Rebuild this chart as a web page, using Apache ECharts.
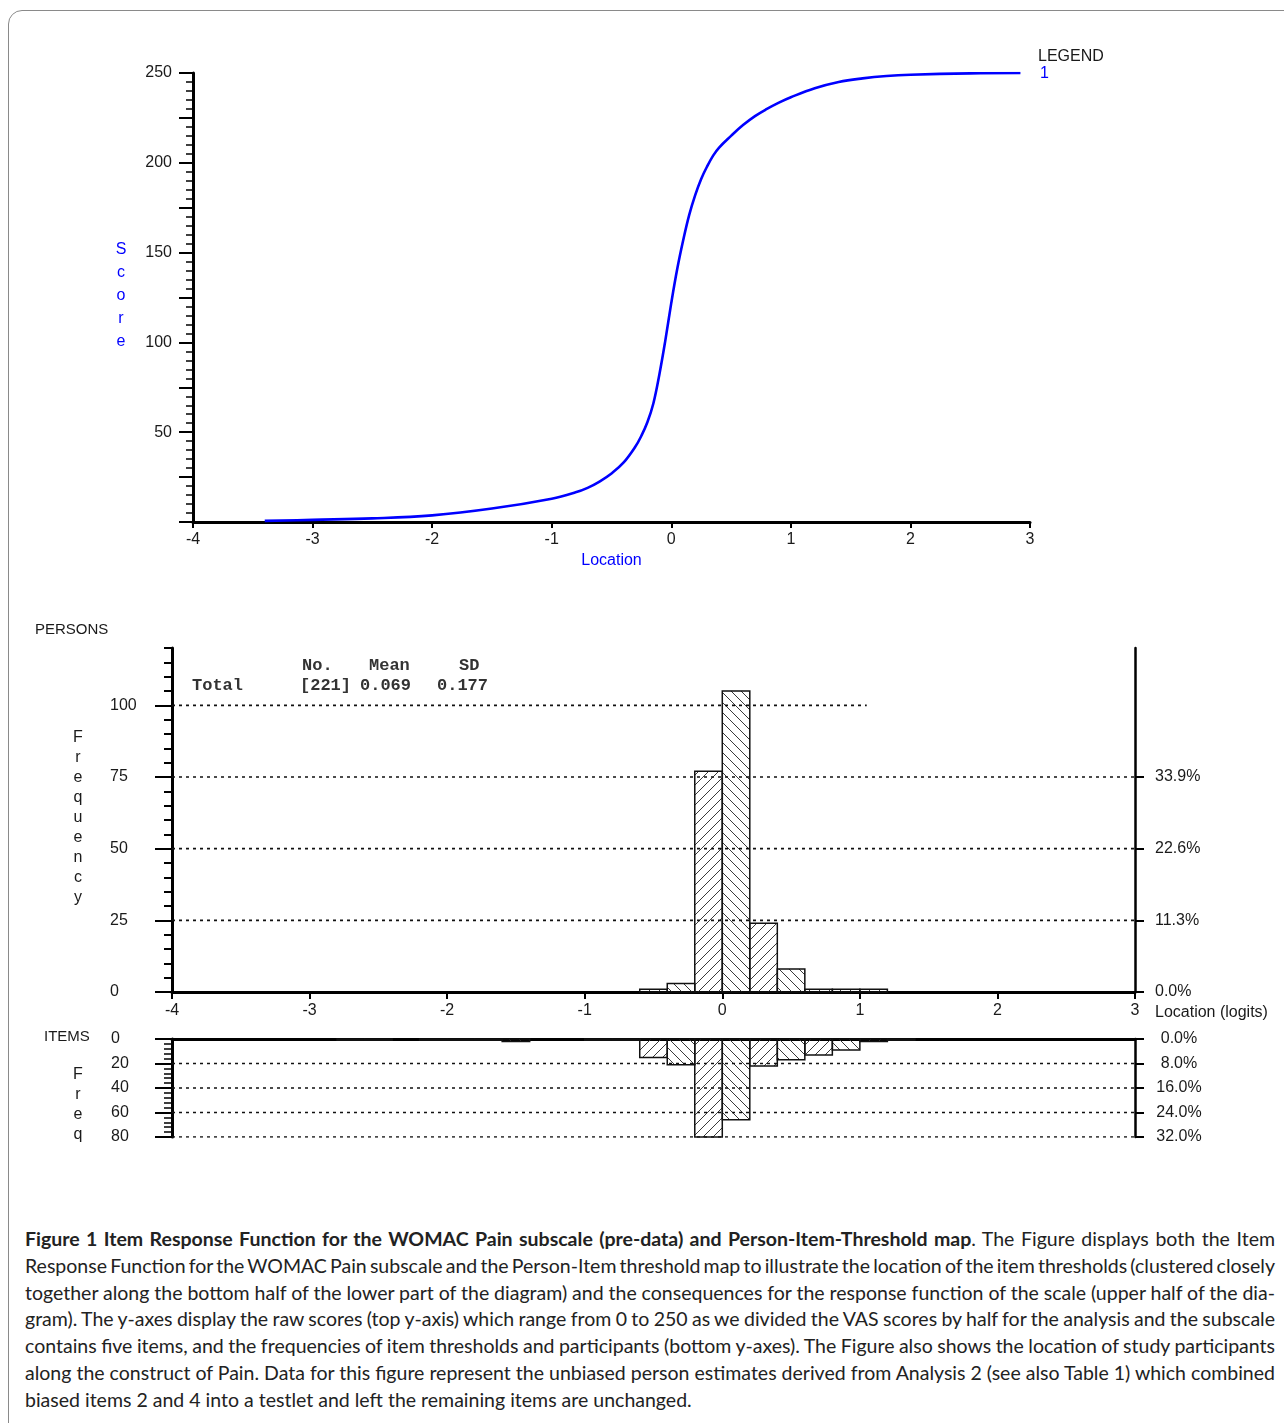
<!DOCTYPE html>
<html>
<head>
<meta charset="utf-8">
<script src="https://cdn.jsdelivr.net/npm/echarts@6/dist/echarts.min.js"></script>
<style>
html,body{margin:0;padding:0;background:#fff;width:1284px;height:1423px;overflow:hidden;}
#frame{position:absolute;left:8px;top:10px;width:1320px;height:1440px;border:1px solid #8a8a8a;border-radius:14px;box-sizing:border-box;}
#chart{position:absolute;left:0;top:0;width:1284px;height:1200px;}
#caption{position:absolute;left:25px;top:1226px;width:1250px;font-family:Lato,"Open Sans",sans-serif;color:#222;font-size:17px;}
#caption .ln{height:26.8px;line-height:26.8px;white-space:nowrap;}
#caption .ln span.inner{display:inline-block;}
</style>
</head>
<body>
<div id="frame"></div>
<div id="chart"></div>
<div id="caption"></div>
<script>
// ---------------- DATA ----------------
const irfLocation = [-3.40,-3.00,-2.50,-2.00,-1.50,-1.00,-0.80,-0.70,-0.60,-0.50,-0.40,-0.30,-0.25,-0.20,-0.15,-0.10,-0.05,0.00,0.05,0.10,0.15,0.20,0.25,0.30,0.35,0.40,0.50,0.60,0.70,0.80,0.90,1.00,1.20,1.40,1.60,1.80,2.00,2.50,2.92];
const irfScore    = [0.6,1.2,2.0,3.7,7.5,13,16.5,19,22.5,27,33,42,48,55.5,66,82,101,122,141,157,171,182,191,198,204,208.5,215,221,226,230,233.5,236.5,241.5,245,247,248.3,249,249.8,250];

const binWidth = 0.2;
const personBinStart = [-0.6,-0.4,-0.2,0.0,0.2,0.4,0.6,0.8,1.0];
const personCount    = [1,3,77,105,24,8,1,1,1];
const itemBinStart   = [-2.8,-2.6,-2.2,-2.0,-1.8,-1.6,-1.0,-0.8,-0.6,-0.4,-0.2,0.0,0.2,0.4,0.6,0.8,1.0,1.2];
const itemCount      = [1,1,1,1,1,2,1,1,15,21,80,66,22,17,13,9,2,1];

const scoreTickLabels   = [50,100,150,200,250];
const personFreqTicks   = [0,25,50,75,100];
const personPctTicks    = [0,25,50,75];
const personPctLabels   = ['0.0%','11.3%','22.6%','33.9%'];
const itemFreqTicks     = [0,20,40,60,80];
const itemPctLabels     = ['0.0%','8.0%','16.0%','24.0%','32.0%'];
// dotted guide lines: [level, fromLocation, toLocation]
const personGuides = [[25,-4,3],[50,-4,3],[75,-4,3],[100,-4,1.05]];
const itemGuides   = [[20,-4,3],[40,-4,3],[60,-4,3],[80,-4,3]];

const statsHeader = ['No.','Mean','SD'];
const statsRow    = ['Total','[221]','0.069','0.177'];

const captionBold = 'Figure 1 Item Response Function for the WOMAC Pain subscale (pre-data) and Person-Item-Threshold map';
const captionLines = [
  '. The Figure displays both the Item',
  'Response Function for the WOMAC Pain subscale and the Person-Item threshold map to illustrate the location of the item thresholds (clustered closely',
  'together along the bottom half of the lower part of the diagram) and the consequences for the response function of the scale (upper half of the dia-',
  'gram). The y-axes display the raw scores (top y-axis) which range from 0 to 250 as we divided the VAS scores by half for the analysis and the subscale',
  'contains five items, and the frequencies of item thresholds and participants (bottom y-axes). The Figure also shows the location of study participants',
  'along the construct of Pain. Data for this figure represent the unbiased person estimates derived from Analysis 2 (see also Table 1) which combined',
  'biased items 2 and 4 into a testlet and left the remaining items are unchanged.'
];

// ---------------- STYLE HELPERS ----------------
const FONT = '"Liberation Sans", Arial, sans-serif';
const TXT = '#1a1a1a';
const BLUE = '#0000ff';

function hatchCanvas(dir) {
  const s = 10;
  const c = document.createElement('canvas');
  c.width = s; c.height = s;
  const g = c.getContext('2d');
  g.strokeStyle = '#3a3a3a';
  g.lineWidth = 1;
  g.beginPath();
  for (let o = -s; o <= s; o += s) {
    if (dir > 0) { g.moveTo(o, s); g.lineTo(o + s, 0); }
    else { g.moveTo(o, 0); g.lineTo(o + s, s); }
  }
  g.stroke();
  return c;
}
const patUp = { image: hatchCanvas(1), repeat: 'repeat' };
const patDown = { image: hatchCanvas(-1), repeat: 'repeat' };

function histRender(params, api) {
  const x0 = api.value(0), h = api.value(1);
  const p0 = api.coord([x0, h]);
  const p1 = api.coord([x0 + binWidth, 0]);
  const k = Math.round((x0 + 4) / binWidth);
  return {
    type: 'rect',
    shape: { x: p0[0], y: Math.min(p0[1], p1[1]), width: p1[0] - p0[0], height: Math.abs(p1[1] - p0[1]) },
    style: { fill: (k % 2 === 1) ? patUp : patDown, stroke: '#111', lineWidth: 1.5 }
  };
}

const lbl = (extra) => Object.assign({ color: TXT, fontFamily: FONT, fontSize: 16 }, extra || {});

// ---------------- AXES ----------------
const xAxes = [
  { gridIndex: 0, type: 'value', min: -4, max: 3, interval: 1,
    axisLine: { onZero: false, lineStyle: { color: '#000', width: 3 } },
    axisTick: { length: 6, lineStyle: { color: '#000', width: 2 } },
    axisLabel: lbl({ margin: 10 }),
    splitLine: { show: false },
    name: 'Location', nameLocation: 'middle', nameGap: 31,
    nameTextStyle: { color: BLUE, fontFamily: FONT, fontSize: 16 } },
  { gridIndex: 1, type: 'value', min: -4, max: 3, interval: 1,
    axisLine: { onZero: false, lineStyle: { color: '#000', width: 3 } },
    axisTick: { length: 7, lineStyle: { color: '#000', width: 2 } },
    axisLabel: lbl({ margin: 11 }),
    splitLine: { show: false } },
  { gridIndex: 2, type: 'value', min: -4, max: 3, interval: 1, position: 'top',
    axisLine: { onZero: false, lineStyle: { color: '#000', width: 3 } },
    axisTick: { show: false }, axisLabel: { show: false },
    splitLine: { show: false } }
];

const yAxes = [
  // 0: score
  { gridIndex: 0, type: 'value', min: 0, max: 250, interval: 25, position: 'left', offset: 0,
    axisLine: { show: true, onZero: false, lineStyle: { color: '#000', width: 3 } },
    axisTick: { length: 14, lineStyle: { color: '#000', width: 2 } },
    minorTick: { show: true, splitNumber: 5, length: 7, lineStyle: { color: '#000', width: 1.5 } },
    axisLabel: lbl({ customValues: scoreTickLabels, margin: 21 }),
    splitLine: { show: false } },
  // 1: persons frequency (major ticks + labels)
  { gridIndex: 1, type: 'value', min: 0, max: 120, interval: 25, position: 'left', offset: 0,
    axisLine: { show: true, onZero: false, lineStyle: { color: '#000', width: 3 } },
    axisTick: { customValues: personFreqTicks, length: 17, lineStyle: { color: '#000', width: 2 } },
    axisLabel: lbl({ customValues: personFreqTicks, align: 'left', margin: 62 }),
    splitLine: { show: false } },
  // 2: persons minor ticks
  { gridIndex: 1, type: 'value', min: 0, max: 120, interval: 5, position: 'left', offset: 0,
    axisLine: { show: false, onZero: false },
    axisTick: { show: true, length: 8, lineStyle: { color: '#000', width: 2 } },
    axisLabel: { show: false }, splitLine: { show: false } },
  // 3: persons percent (right)
  { gridIndex: 1, type: 'value', min: 0, max: 120, interval: 25, position: 'right', offset: 0,
    axisLine: { show: true, onZero: false, lineStyle: { color: '#000', width: 2.5 } },
    axisTick: { customValues: personPctTicks, length: 9, lineStyle: { color: '#000', width: 2 } },
    axisLabel: lbl({ customValues: personPctTicks, align: 'left', margin: 20,
      formatter: v => personPctLabels[personPctTicks.indexOf(v)] }),
    splitLine: { show: false } },
  // 4: items frequency (left, inverted)
  { gridIndex: 2, type: 'value', min: 0, max: 80, interval: 20, inverse: true, position: 'left', offset: 0,
    axisLine: { show: true, onZero: false, lineStyle: { color: '#000', width: 3 } },
    axisTick: { length: 17, lineStyle: { color: '#000', width: 2 } },
    minorTick: { show: true, splitNumber: 5, length: 8, lineStyle: { color: '#000', width: 1.5 } },
    axisLabel: lbl({ align: 'left', margin: 61 }),
    splitLine: { show: false } },
  // 5: items percent (right)
  { gridIndex: 2, type: 'value', min: 0, max: 80, interval: 20, inverse: true, position: 'right', offset: 0,
    axisLine: { show: true, onZero: false, lineStyle: { color: '#000', width: 2.5 } },
    axisTick: { length: 9, lineStyle: { color: '#000', width: 2 } },
    axisLabel: lbl({ align: 'center', margin: 44,
      formatter: v => itemPctLabels[itemFreqTicks.indexOf(v)] }),
    splitLine: { show: false } }
];

// ---------------- SERIES ----------------
const series = [];
series.push({
  type: 'line', xAxisIndex: 0, yAxisIndex: 0,
  data: irfLocation.map((x, i) => [x, irfScore[i]]),
  smooth: 0.4, showSymbol: false, symbol: 'none',
  lineStyle: { color: BLUE, width: 2.6 }, z: 5
});
series.push({
  type: 'custom', xAxisIndex: 1, yAxisIndex: 1,
  data: personBinStart.map((x, i) => [x, personCount[i]]),
  encode: { x: 0, y: 1 }, renderItem: histRender, z: 2
});
series.push({
  type: 'custom', xAxisIndex: 2, yAxisIndex: 4,
  data: itemBinStart.map((x, i) => [x, itemCount[i]]),
  encode: { x: 0, y: 1 }, renderItem: histRender, z: 2
});
personGuides.forEach(g => series.push({
  type: 'line', xAxisIndex: 1, yAxisIndex: 1, silent: true, symbol: 'none',
  data: [[g[1], g[0]], [g[2], g[0]]],
  lineStyle: { color: '#111', width: 1.6, type: [3, 4] }, z: 4
}));
itemGuides.forEach(g => series.push({
  type: 'line', xAxisIndex: 2, yAxisIndex: 4, silent: true, symbol: 'none',
  data: [[g[1], g[0]], [g[2], g[0]]],
  lineStyle: { color: '#111', width: 1.6, type: [3, 4] }, z: 4
}));

// ---------------- TEXT GRAPHICS ----------------
function txt(x, y, text, opts) {
  const o = opts || {};
  return {
    type: 'text', x: x, y: y, silent: true, z: 10,
    style: {
      text: text,
      font: o.font || ('16px ' + FONT),
      fill: o.fill || TXT,
      align: o.align || 'left',
      verticalAlign: o.va || 'middle',
      lineHeight: o.lh
    }
  };
}
const monoFont = 'bold 17px "Liberation Mono", "DejaVu Sans Mono", monospace';
const statsHeaderX = [302, 369, 459];
const statsRowX = [192, 300, 360, 437];
const graphics = [
  txt(1038, 57, 'LEGEND'),
  txt(1040, 74, '1', { fill: BLUE }),
  txt(121, 238, 'S\nc\no\nr\ne', { fill: BLUE, align: 'center', va: 'top', lh: 23 }),
  txt(35, 630, 'PERSONS', { font: '15px ' + FONT }),
  txt(78, 728, 'F\nr\ne\nq\nu\ne\nn\nc\ny', { align: 'center', va: 'top', lh: 20 }),
  txt(44, 1037, 'ITEMS', { font: '15px ' + FONT }),
  txt(78, 1065, 'F\nr\ne\nq', { align: 'center', va: 'top', lh: 20 }),
  txt(1155, 1013, 'Location (logits)')
];
statsHeader.forEach((t, i) => graphics.push(txt(statsHeaderX[i], 666, t, { font: monoFont, fill: '#333' })));
statsRow.forEach((t, i) => graphics.push(txt(statsRowX[i], 686, t, { font: monoFont, fill: '#333' })));

const chart = echarts.init(document.getElementById('chart'), null, { renderer: 'canvas' });
chart.setOption({
  animation: false,
  backgroundColor: 'transparent',
  textStyle: { fontFamily: FONT },
  grid: [
    { left: 193, top: 73, width: 837, height: 449 },
    { left: 172, top: 648, width: 963, height: 344 },
    { left: 172, top: 1039, width: 963, height: 98 }
  ],
  xAxis: xAxes,
  yAxis: yAxes,
  series: series,
  graphic: graphics
});

// ---------------- CAPTION ----------------
const cap = document.getElementById('caption');
const lineEls = [];
captionLines.forEach((t, i) => {
  const d = document.createElement('div');
  d.className = 'ln';
  const inner = document.createElement('span');
  inner.className = 'inner';
  if (i === 0) {
    const b = document.createElement('b');
    b.textContent = captionBold;
    inner.appendChild(b);
    inner.appendChild(document.createTextNode(t));
  } else {
    inner.textContent = t;
  }
  d.appendChild(inner);
  cap.appendChild(d);
  lineEls.push(inner);
});
function layoutCaption() {
  cap.style.fontSize = '18px';
  lineEls.forEach(e => e.style.wordSpacing = '0px');
  const last = lineEls[lineEls.length - 1];
  const wLast = last.getBoundingClientRect().width;
  const size = 18 * 667 / wLast;
  cap.style.fontSize = size.toFixed(2) + 'px';
  lineEls.forEach((e, i) => {
    if (i === lineEls.length - 1) return;
    const w = e.getBoundingClientRect().width;
    const spaces = (e.textContent.match(/ /g) || []).length;
    e.style.wordSpacing = ((1250 - w) / spaces).toFixed(3) + 'px';
  });
}
layoutCaption();
if (document.fonts && document.fonts.ready) document.fonts.ready.then(layoutCaption);
</script>
</body>
</html>
